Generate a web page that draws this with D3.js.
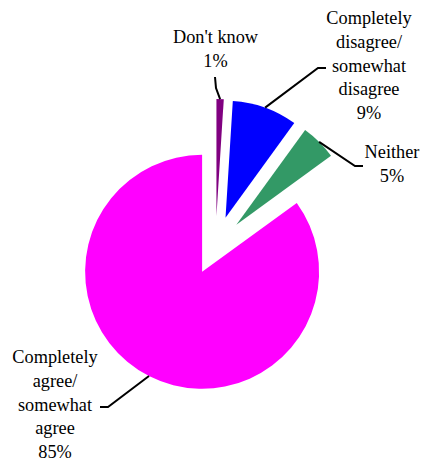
<!DOCTYPE html>
<html>
<head>
<meta charset="utf-8">
<script src="https://cdn.jsdelivr.net/npm/d3@7"></script>
</head>
<body style="margin:0">
<svg id="chart" width="422" height="464" font-family="Liberation Serif"></svg>
<script>
// ---- data ----
const categories = ["Don't know", "Completely disagree/ somewhat disagree", "Neither", "Completely agree/ somewhat agree"];
const values = [1, 9, 5, 85];
const labelWords = [["Don't know"], ["Completely", "disagree/", "somewhat", "disagree"], ["Neither"], ["Completely", "agree/", "somewhat", "agree"]];
const colors = ["#800080", "#0000FF", "#339966", "#FF00FF"];

// ---- layout ----
const cx = 215.5, cy = 245.5, R = 117, explode = 29.5;
const lineH = 23.8;
// label anchor (center x, first baseline) and leader elbow/end points
const labelLayout = [
  { x: 215.5, y: 43,  elbow: [216, 88],  end: [215, 77] },
  { x: 369,   y: 24,  elbow: [318, 68],  end: [326, 68] },
  { x: 392,   y: 158, elbow: [355, 166], end: [363, 166] },
  { x: 55,    y: 363, elbow: [108, 407], end: [100, 407] }
];

const svg = d3.select("#chart");
const data = categories.map((c, i) => ({ cat: c, value: values[i], i }));

const pie = d3.pie().value(d => d.value).sort(null).startAngle(0).endAngle(2 * Math.PI);
const arcs = pie(data);
const arc = d3.arc().innerRadius(0).outerRadius(R);

function offsetOf(a) {
  const m = (a.startAngle + a.endAngle) / 2;
  return [explode * Math.sin(m), -explode * Math.cos(m)];
}

const g = svg.append("g").attr("transform", `translate(${cx},${cy})`);
g.selectAll("path.slice")
  .data(arcs)
  .join("path")
  .attr("class", "slice")
  .attr("d", arc)
  .attr("fill", (d, i) => colors[i])
  .attr("transform", d => { const o = offsetOf(d); return `translate(${o[0]},${o[1]})`; });

// leader lines
const line = d3.line();
arcs.forEach((a, i) => {
  const o = offsetOf(a);
  const m = (a.startAngle + a.endAngle) / 2;
  const start = [cx + o[0] + R * Math.sin(m), cy + o[1] - R * Math.cos(m)];
  const L = labelLayout[i];
  svg.append("path")
    .attr("d", line([start, L.elbow, L.end]))
    .attr("fill", "none")
    .attr("stroke", "#000")
    .attr("stroke-width", 2);
});

// labels: one text element per line
arcs.forEach((a, i) => {
  const L = labelLayout[i];
  const lines = labelWords[i].concat([`${values[i]}%`]);
  lines.forEach((s, k) => {
    svg.append("text")
      .attr("x", L.x)
      .attr("y", L.y + k * lineH)
      .attr("text-anchor", "middle")
      .attr("font-family", "Liberation Serif")
      .attr("font-size", 18.3)
      .text(s);
  });
});
</script>
</body>
</html>
